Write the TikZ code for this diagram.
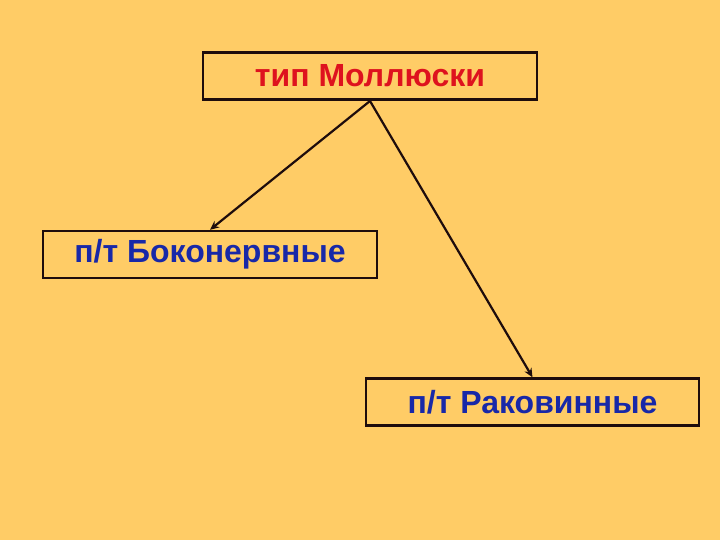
\documentclass[tikz,border=0pt]{standalone}
\usepackage{fontspec}
\setmainfont{Liberation Sans}
\usetikzlibrary{arrows.meta}
\definecolor{bg}{RGB}{255,204,102}
\definecolor{txtred}{RGB}{222,18,30}
\definecolor{txtblue}{RGB}{24,40,168}
\definecolor{edge}{RGB}{30,12,12}
\tikzset{
  box/.style={draw=edge, line width=2.4pt, inner sep=0pt, minimum height=47pt, font=\fontsize{32}{36}\selectfont\bfseries},
  conn/.style={draw=edge, line width=2.2pt, -{Stealth[length=9pt,width=8pt]}}
}
\begin{document}
\begin{tikzpicture}[x=1pt,y=-1pt]
\fill[bg] (0,0) rectangle (720,540);
\useasboundingbox (0,0) rectangle (720,540);
\node[box, minimum width=334pt, text=txtred] (top) at (370,76) {тип Моллюски};
\node[box, minimum width=334pt, text=txtblue] (left) at (210,254.5) {п/т Боконервные};
\node[box, minimum width=333pt, text=txtblue] (right) at (532.5,402) {п/т Раковинные};
\coordinate (s) at (370,101);
\draw[conn] (s) -- (left.north);
\draw[conn] (s) -- (right.north);
\end{tikzpicture}
\end{document}
